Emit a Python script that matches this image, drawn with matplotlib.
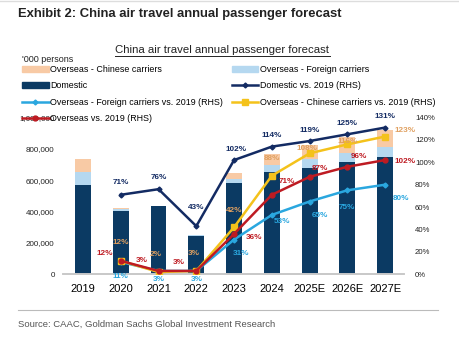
import matplotlib
matplotlib.use("Agg")
import matplotlib.pyplot as plt
import matplotlib.patches as mpatches
from matplotlib.lines import Line2D
from matplotlib.ticker import FuncFormatter

years = ['2019', '2020', '2021', '2022', '2023', '2024', '2025E', '2026E', '2027E']

# passengers, '000 persons
domestic = [571000, 405000, 434000, 246000, 582000, 651000, 680000, 714000, 748000]
os_foreign = [82000, 9000, 2500, 2500, 25000, 43000, 53000, 62000, 66000]
os_chinese = [85000, 10000, 1700, 2600, 38000, 75000, 92000, 99000, 105000]

# % of 2019 level (RHS), from 2020 onwards
dom_pct = [71, 76, 43, 102, 114, 119, 125, 131]
foreign_pct = [11, 3, 3, 31, 53, 65, 75, 80]
chinese_pct = [12, 2, 3, 42, 88, 108, 116, 123]
overseas_pct = [12, 3, 3, 36, 71, 87, 96, 102]

c_dom = '#0b3a63'
c_foreign = '#b5d8f0'
c_chinese = '#f8caa5'
c_domline = '#132b63'
c_cyan = '#2aa7df'
c_yellow = '#f4c21b'
c_red = '#be1b22'
c_tan = '#e0a060'

plt.rcParams['font.family'] = ['Liberation Sans', 'DejaVu Sans']

fig = plt.figure(figsize=(4.59, 3.46), dpi=100)
W, H = 459, 346
ax = fig.add_axes([63 / W, 1 - 274.3 / H, (404 - 63) / W, (274.3 - 117.5) / H])
ax2 = ax.twinx()

x = list(range(len(years)))
bw = 0.42
ax.bar(x, domestic, bw, color=c_dom, zorder=2)
bot2 = [d + f for d, f in zip(domestic, os_foreign)]
ax.bar(x, os_foreign, bw, bottom=domestic, color=c_foreign, zorder=2)
ax.bar(x, os_chinese, bw, bottom=bot2, color=c_chinese, zorder=2)

ax.set_xlim(-0.53, 8.5)
ax.set_ylim(0, 1000000)
ax.set_yticks(range(0, 1000001, 200000))
ax.yaxis.set_major_formatter(FuncFormatter(lambda v, p: f'{int(v):,}'))
ax.set_xticks(x)
ax.set_xticklabels(years, fontsize=8)
ax.tick_params(axis='y', labelsize=5.8, length=0, pad=6, colors='#222222')
ax.tick_params(axis='x', length=0, pad=7)

ax2.set_ylim(0, 140)
ax2.set_yticks(range(0, 141, 20))
ax2.yaxis.set_major_formatter(FuncFormatter(lambda v, p: f'{int(v)}%'))
ax2.tick_params(axis='y', labelsize=5.6, length=0, pad=8, colors='#222222')

for a in (ax, ax2):
    for s in ['top', 'left', 'right']:
        a.spines[s].set_visible(False)
    a.spines['bottom'].set_color('#c8c8c8')
    a.spines['bottom'].set_linewidth(1.2)

xl = x[1:]
ax2.plot(xl, dom_pct, color=c_domline, lw=1.8, marker='D', ms=2.5, zorder=3)
ax2.plot(xl, foreign_pct, color=c_cyan, lw=1.8, marker='D', ms=2.5, zorder=3)
ax2.plot(xl, chinese_pct, color=c_yellow, lw=1.8, marker='s', ms=4, zorder=4)
ax2.plot(xl, overseas_pct, color=c_red, lw=1.8, marker='o', ms=3.5, zorder=5)

# data labels: offsets in pixels
dom_off = [(0, 12), (0, 12), (0, 19), (2, 11), (0, 11), (0, 11), (0, 11), (0, 11)]
foreign_off = [(0, -15), (0, -9), (0, -9), (7, -14), (10, -7), (10, -14), (0, -17), (16, -14)]
chinese_off = [(0, 18), (-3, 18), (-3, 17), (0, 17), (0, 17), (-3, 5), (0, 3), (20, 6)]
overseas_off = [(-16, 7), (-17, 10), (-18, 8), (20, -4), (15, 13), (10, 8), (12, 10), (20, -1)]

def labels(vals, offs, color):
    for xi, v, (dx, dy) in zip(xl, vals, offs):
        ax2.annotate(f'{v}%', (xi, v), xytext=(dx, dy), textcoords='offset pixels',
                     ha='center', va='center', fontsize=5.9, fontweight='bold',
                     color=color, zorder=6)

labels(dom_pct, dom_off, c_domline)
labels(foreign_pct, foreign_off, c_cyan)
labels(chinese_pct, chinese_off, c_tan)
labels(overseas_pct, overseas_off, c_red)

# legend
h = [
    mpatches.Patch(color=c_chinese, label='Overseas - Chinese carriers'),
    mpatches.Patch(color=c_dom, label='Domestic'),
    Line2D([], [], color=c_cyan, lw=1.8, marker='D', ms=2.5, label='Overseas - Foreign carriers vs. 2019 (RHS)'),
    Line2D([], [], color=c_red, lw=1.8, marker='o', ms=3.5, label='Overseas vs. 2019 (RHS)'),
    mpatches.Patch(color=c_foreign, label='Overseas - Foreign carriers'),
    Line2D([], [], color=c_domline, lw=1.8, marker='D', ms=2.5, label='Domestic vs. 2019 (RHS)'),
    Line2D([], [], color=c_yellow, lw=1.8, marker='s', ms=4, label='Overseas - Chinese carriers vs. 2019 (RHS)'),
]
fig.legend(handles=h, ncol=2, loc='upper left', bbox_to_anchor=(22 / W, 1 - 65 / H),
           frameon=False, fontsize=6.4, labelspacing=0.82, handlelength=3.0,
           handleheight=0.6, handletextpad=0.2, columnspacing=0.95, borderpad=0,
           borderaxespad=0)

fig.text(18 / W, 1 - 14 / H, 'Exhibit 2: China air travel annual passenger forecast',
         fontsize=9.4, fontweight='bold', color='#222222', va='center')
fig.text(222 / W, 1 - 50 / H, 'China air travel annual passenger forecast',
         fontsize=8.2, ha='center', va='center', color='#222222')
fig.add_artist(Line2D([115 / W, 330 / W], [1 - 56 / H, 1 - 56 / H], color='#222222', lw=0.7))
fig.text(22 / W, 1 - 59 / H, "'000 persons", fontsize=6.5, va='center', color='#222222')

fig.add_artist(Line2D([18 / W, 438 / W], [1 - 310 / H, 1 - 310 / H], color='#bbbbbb', lw=0.8))
fig.add_artist(Line2D([0, 1], [1 - 1 / H, 1 - 1 / H], color='#dddddd', lw=1))
fig.text(18 / W, 1 - 324 / H, 'Source: CAAC, Goldman Sachs Global Investment Research',
         fontsize=6.8, color='#555555', va='center')

fig.savefig('out.png', dpi=100)
